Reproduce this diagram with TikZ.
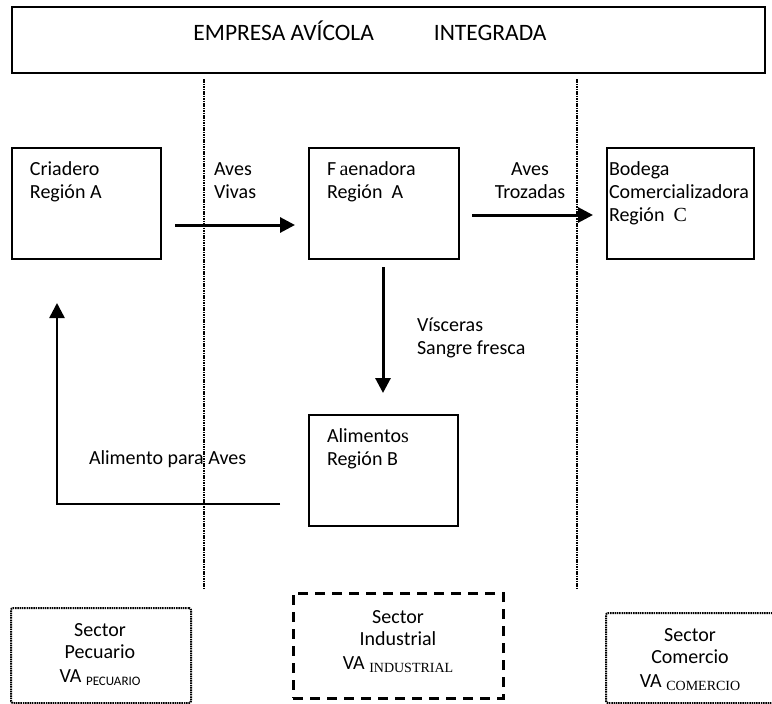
\documentclass[tikz,border=0pt]{standalone}
\usepackage{fontspec}
\setmainfont{Carlito}
\newfontfamily\tnr{Liberation Serif}
\usetikzlibrary{arrows.meta}
\begin{document}
\begin{tikzpicture}[x=1pt,y=-1pt,
  txt/.style={inner sep=0pt, outer sep=0pt, font=\fontsize{20}{22.5}\selectfont},
  box/.style={draw, line width=1.6pt, inner sep=0pt, outer sep=0pt, minimum height=111pt},
  flow/.style={line width=3pt, -{Triangle[length=15pt,width=15pt]}},
  sep/.style={line width=2.3pt, dash pattern=on 1.6pt off 0.8pt},
  dotbox/.style={draw, line width=2pt, dash pattern=on 1.5pt off 0.8pt, rounded corners=2pt},
  dashbox/.style={draw, line width=3pt, dash pattern=on 10pt off 7pt}]
\useasboundingbox (0,0) rectangle (772,704);
% top box
\node[draw, line width=2pt, inner sep=0pt, minimum width=753pt, minimum height=66pt] (top) at (388.5,40) {};
\node[txt, anchor=base, font=\fontsize{23.5}{26}\selectfont] (title) at (370,41) {EMPRESA AVÍCOLA\hspace{60pt}INTEGRADA};
% separators
\coordinate (s1t) at (204,79); \coordinate (s1b) at (204,590);
\coordinate (s2t) at (577,79); \coordinate (s2b) at (577,590);
\draw[sep] (s1t) -- (s1b);
\draw[sep] (s2t) -- (s2b);
% boxes
\node[box, minimum width=149pt] (cri) at (86.5,203.5) {};
\node[box, minimum width=150pt] (fae) at (384,203.5) {};
\node[box, minimum width=147pt] (bod) at (680.5,203.5) {};
\node[box, minimum width=149pt] (ali) at (383.5,470.5) {};
% box texts (anchor = baseline of last line)
\node[txt, anchor=base west, align=left] (tcri) at (30,198) {Criadero\\Región A};
\node[txt, anchor=base west, align=left] (tfae) at (327,198) {F{\tnr\,a}enadora\\Región\ \ A};
\node[txt, anchor=base west, align=left] (tbod) at (609,221) {Bodega\\Comercializadora\\[0.5pt]Región\ \ {\tnr C}};
\node[txt, anchor=base west, align=left] (tali) at (327,465) {Alimento{\tnr s}\\Región B};
% flow labels
\node[txt, anchor=base west, align=left] (lviv) at (214,198) {Aves\\Vivas};
\node[txt, anchor=base, align=center] (ltro) at (530,198) {Aves\\Trozadas};
\node[txt, anchor=base west, align=left] (lvis) at (417,354) {Vísceras\\Sangre fresca};
\node[txt, anchor=base west] (lali) at (89,464) {Alimento para Aves};
% arrows
\draw[flow, shorten <=14pt, shorten >=14pt] ([yshift=-21.5pt]cri.east) -- ([yshift=-21.5pt]fae.west);
\draw[flow, shorten <=13pt, shorten >=14pt] ([yshift=-11.5pt]fae.east) -- ([yshift=-11.5pt]bod.west);
\draw[flow, shorten <=8pt, shorten >=22pt] ([xshift=-1pt]fae.south) -- ([xshift=-0.5pt]ali.north);
\coordinate (bend) at (57,504);
\draw[line width=2.5pt, -{Triangle[length=15pt,width=15pt]}, shorten <=29pt, shorten >=44pt]
  ([yshift=-33.5pt]ali.west) -- (bend) -- (bend |- cri.south);
% sectors
\node[dotbox, minimum width=180pt, minimum height=95pt, inner sep=0pt] (pec) at (101,655.5) {};
\node[dashbox, minimum width=210pt, minimum height=105pt, inner sep=0pt] (ind) at (398,645.5) {};
\node[dotbox, minimum width=180pt, minimum height=90pt, inner sep=0pt] (com) at (696,658) {};
\node[txt, anchor=base, align=center] (tpec) at (100,682) {Sector\\Pecuario\\[1pt]VA \raisebox{-3pt}{\fontsize{13}{13}\selectfont PECUARIO}};
\node[txt, anchor=base, align=center] (tind) at (398,669) {Sector\\Industrial\\[1pt]VA \raisebox{-3pt}{\tnr\fontsize{14}{14}\selectfont INDUSTRIAL}};
\node[txt, anchor=base, align=center] (tcom) at (690,687) {Sector\\Comercio\\[1pt]VA \raisebox{-3pt}{\tnr\fontsize{14}{14}\selectfont COMERCIO}};
\end{tikzpicture}
\end{document}
